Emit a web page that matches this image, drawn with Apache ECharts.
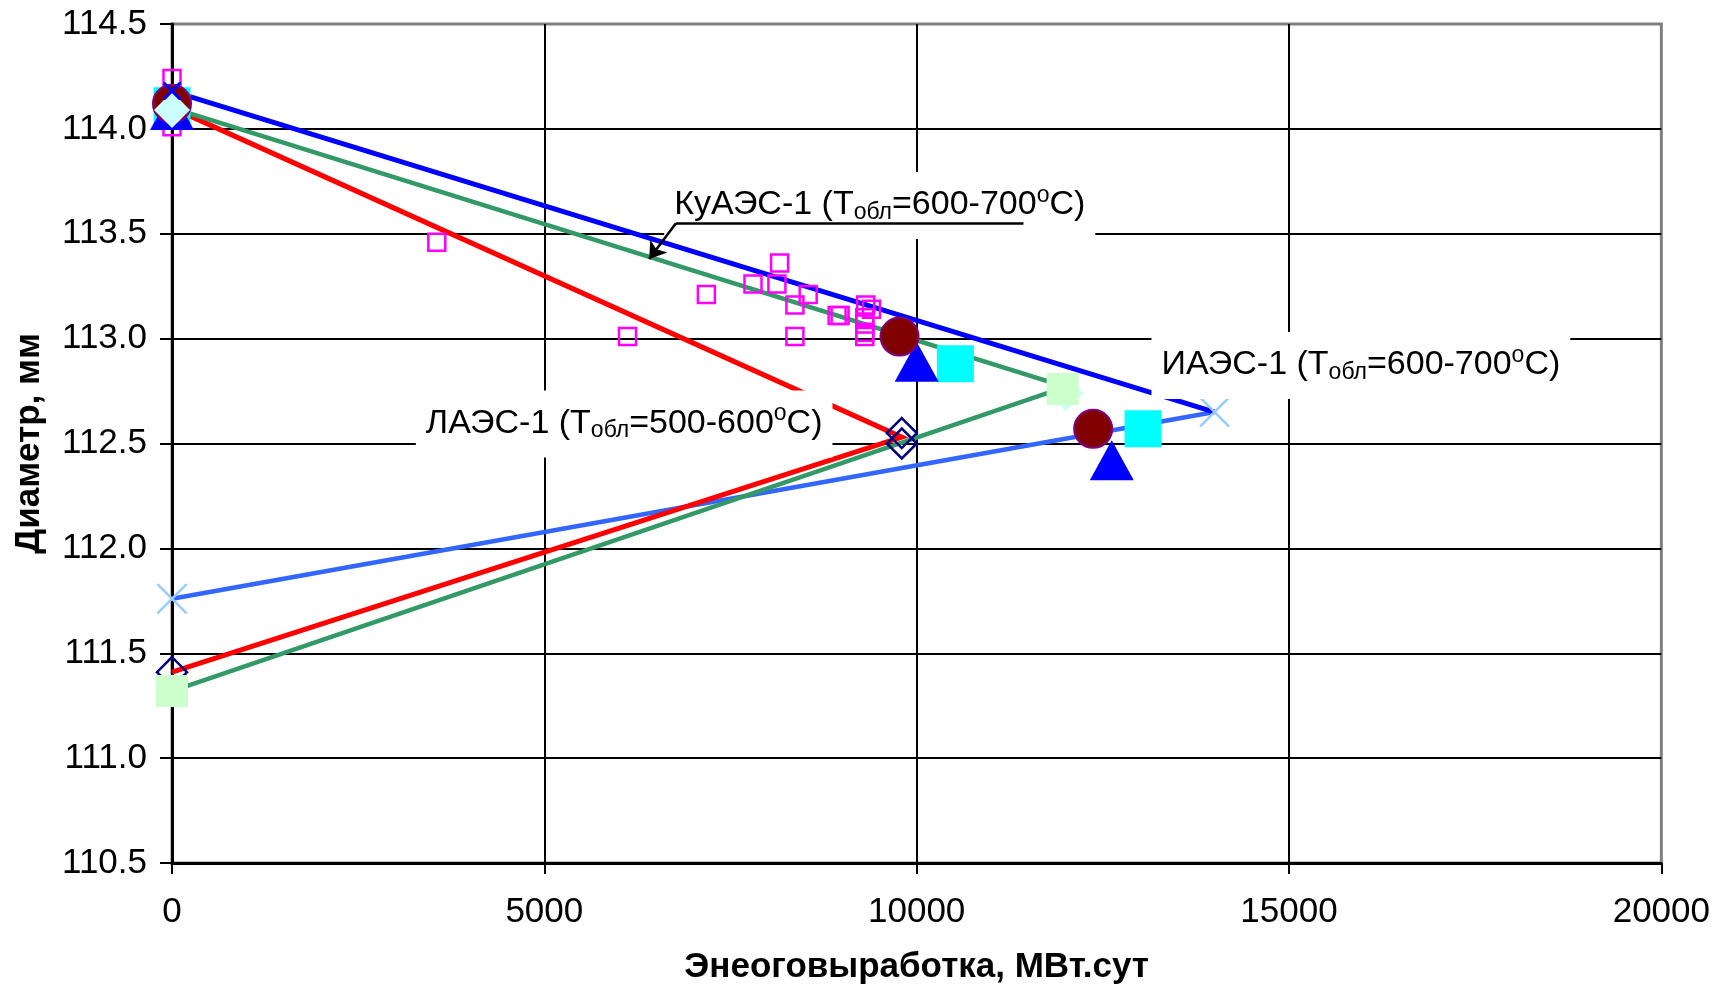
<!DOCTYPE html>
<html>
<head>
<meta charset="utf-8">
<script src="https://cdn.jsdelivr.net/npm/echarts@6/dist/echarts.min.js"></script>
<style>
html,body{margin:0;padding:0;background:#fff;}
#chart{width:1713px;height:990px;}
</style>
</head>
<body>
<div id="chart"></div>
<script>
// ---- axis setup ----
const xMin = 0, xMax = 20000, xStep = 5000;
const yMin = 110.5, yMax = 114.5, yStep = 0.5;
const xTitle = 'Энеоговыработка, МВт.сут';
const yTitle = 'Диаметр, мм';

// ---- lines ----
const iaesUpperX = [0, 14000];
const iaesUpperY = [114.18, 112.65];
const iaesLowerX = [14000, 0];
const iaesLowerY = [112.65, 111.76];
const kuaesX = [0, 12000, 0];
const kuaesY = [114.10, 112.77, 111.32];
const laesX = [0, 9800, 0];
const laesY = [114.10, 112.53, 111.41];

// ---- markers ----
const magentaX = [0, 0, 3556, 6117, 7176, 7802, 8123, 8159, 8365, 8365, 8543, 8932, 8972, 9316, 9392, 9303, 9303, 9303, 9303];
const magentaY = [114.24, 114.01, 113.46, 113.01, 113.21, 113.26, 113.26, 113.36, 113.16, 113.01, 113.21, 113.11, 113.11, 113.16, 113.14, 113.10, 113.07, 113.03, 113.01];
const navyDiamondX = [9800, 9800, 0];
const navyDiamondY = [112.55, 112.50, 111.41];
const cyanSquareX = [0, 10520, 13040];
const cyanSquareY = [114.11, 112.88, 112.57];
const triangleX = [0, 10000, 12620];
const triangleY = [114.09, 112.89, 112.42];
const circleX = [0, 9770, 12370];
const circleY = [114.12, 113.01, 112.57];
const paleDiamondX = [0, 12000];
const paleDiamondY = [114.09, 112.74];
const greenSquareX = [11960, 0];
const greenSquareY = [112.76, 111.32];
const darkCrossX = [0];
const darkCrossY = [114.18];
const lightCrossX = [14000, 0];
const lightCrossY = [112.65, 111.76];

// ---- annotations ----
const annoNames = ['КуАЭС-1', 'ИАЭС-1', 'ЛАЭС-1'];
const annoTemps = ['600-700', '600-700', '500-600'];
const annoX = [9504, 15965, 6072];
const annoY = [113.635, 112.872, 112.593];
const leaderX = [11434, 6767, 6408];
const leaderY = [113.55, 113.55, 113.38];

const FONT = '"Liberation Sans", Arial, sans-serif';
const zip = (xs, ys) => xs.map((x, i) => [x, ys[i]]);
const crossPath = a => `path://M0,0L${a},0L10,${10 - a}L10,10L${10 - a},10L0,${a}Z M${10 - a},0L10,0L10,${a}L${a},10L0,10L0,${10 - a}Z`;

function lineSeries(xs, ys, color, width) {
  return { type: 'line', data: zip(xs, ys), showSymbol: false, symbol: 'none',
    lineStyle: { color, width, cap: 'butt', join: 'miter', opacity: 1 }, z: 2, silent: true };
}
function scatter(xs, ys, symbol, size, itemStyle, z) {
  return { type: 'scatter', data: zip(xs, ys), symbol, symbolSize: size,
    itemStyle: Object.assign({ opacity: 1 }, itemStyle), z: z || 3, silent: true };
}

const chart = echarts.init(document.getElementById('chart'), null, { renderer: 'canvas' });

const option = {
  animation: false,
  backgroundColor: '#fff',
  grid: { left: 172, right: 49, top: 24, bottom: 127, show: true, borderColor: '#808080', borderWidth: 3, backgroundColor: '#fff' },
  xAxis: {
    type: 'value', min: xMin, max: xMax, interval: xStep,
    name: xTitle, nameLocation: 'middle', nameGap: 87,
    nameTextStyle: { fontFamily: FONT, fontSize: 35, fontWeight: 'bold', color: '#000' },
    axisLine: { show: true, onZero: false, lineStyle: { color: '#000', width: 3 } },
    axisTick: { show: true, length: 11, lineStyle: { color: '#000', width: 2 } },
    axisLabel: { fontFamily: FONT, fontSize: 35, color: '#000', margin: 32, formatter: v => String(v) },
    splitLine: { show: true, showMinLine: false, showMaxLine: false, lineStyle: { color: '#000', width: 2 } }
  },
  yAxis: {
    type: 'value', min: yMin, max: yMax, interval: yStep,
    name: yTitle, nameLocation: 'middle', nameGap: 125,
    nameTextStyle: { fontFamily: FONT, fontSize: 35, fontWeight: 'bold', color: '#000' },
    axisLine: { show: true, onZero: false, lineStyle: { color: '#000', width: 3 } },
    axisTick: { show: true, length: 12, lineStyle: { color: '#000', width: 2 } },
    axisLabel: { fontFamily: FONT, fontSize: 35, color: '#000', margin: 25, formatter: v => v.toFixed(1) },
    splitLine: { show: true, showMinLine: false, showMaxLine: false, lineStyle: { color: '#000', width: 2 } }
  },
  series: [
    lineSeries(iaesLowerX, iaesLowerY, '#3366FF', 4.5),
    lineSeries(laesX, laesY, '#FF0000', 5),
    lineSeries(kuaesX, kuaesY, '#339966', 4.5),
    lineSeries(iaesUpperX, iaesUpperY, '#0000FF', 5),
    scatter(magentaX, magentaY, 'rect', 17, { color: 'rgba(0,0,0,0)', borderColor: '#FF00FF', borderWidth: 2.5 }),
    scatter(navyDiamondX, navyDiamondY, 'diamond', [30, 30], { color: 'rgba(0,0,0,0)', borderColor: '#000080', borderWidth: 2.5 }),
    scatter(cyanSquareX, cyanSquareY, 'rect', 37, { color: '#00FFFF' }),
    scatter(triangleX, triangleY, 'triangle', [44, 40], { color: '#0000FF' }),
    scatter(circleX, circleY, 'circle', 38, { color: '#800000', borderColor: '#800080', borderWidth: 2 }),
    scatter(paleDiamondX, paleDiamondY, 'diamond', 36, { color: '#CCFFFF' }),
    scatter(greenSquareX, greenSquareY, 'rect', 32, { color: '#CCFFCC' }),
    scatter(darkCrossX, darkCrossY, crossPath(1.18), 18, { color: '#0000FF' }),
    scatter(lightCrossX, lightCrossY, crossPath(0.6), 30, { color: '#99CCFF' }),
    {
      type: 'scatter', z: 20, silent: true, symbolSize: 0,
      itemStyle: { opacity: 1 },
      data: annoX.map((x, i) => ({ value: [x, annoY[i]], name: annoNames[i] })),
      label: {
        show: true, position: 'inside', opacity: 1,
        formatter: p => `${annoNames[p.dataIndex]} (T{sub|обл}=${annoTemps[p.dataIndex]}{sup|o}C)`,
        fontFamily: FONT, fontSize: 34, lineHeight: 40, color: '#000',
        backgroundColor: '#fff', padding: [13, 10, 14, 10],
        rich: {
          sub: { fontFamily: FONT, fontSize: 23, lineHeight: 23, color: '#000', padding: [15, 0, 0, 0] },
          sup: { fontFamily: FONT, fontSize: 23, lineHeight: 23, color: '#000', padding: [0, 0, 19, 0] }
        }
      }
    },
    {
      type: 'lines', coordinateSystem: 'cartesian2d', z: 21, silent: true,
      symbol: ['none', 'none'],
      lineStyle: { color: '#000', width: 2.5, opacity: 1, curveness: 0 },
      data: [{ coords: [[leaderX[0], leaderY[0]], [leaderX[1], leaderY[1]]] }]
    },
    {
      type: 'lines', coordinateSystem: 'cartesian2d', z: 21, silent: true,
      symbol: ['none', 'arrow'], symbolSize: 16,
      lineStyle: { color: '#000', width: 2.5, opacity: 1, curveness: 0 },
      data: [{ coords: [[leaderX[1], leaderY[1]], [leaderX[2], leaderY[2]]] }]
    }
  ]
};
chart.setOption(option);
</script>
</body>
</html>
